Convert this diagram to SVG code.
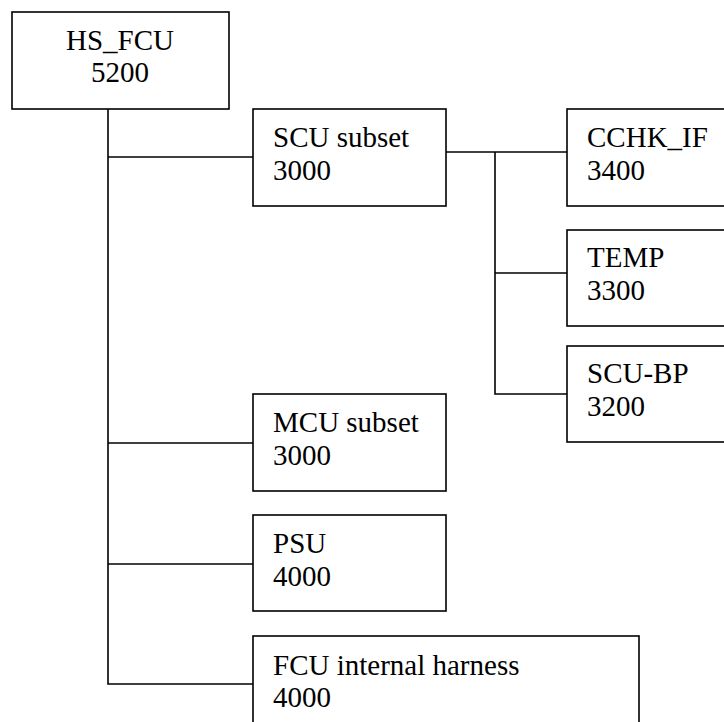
<svg xmlns="http://www.w3.org/2000/svg" width="724" height="722" viewBox="0 0 724 722">
<style>
.box{fill:#fff;stroke:#000;stroke-width:1.6}
.wire{fill:none;stroke:#000;stroke-width:1.6}
.t{font-family:'Liberation Serif','Times New Roman',Times,'Noto Serif','DejaVu Serif',serif;font-size:29px;fill:#000}
</style>
<rect width="724" height="722" fill="#fff"/>
<g id="connectors">
<polyline class="wire" points="108,109 108,684 253,684"/>
<line class="wire" x1="108" y1="157" x2="253" y2="157"/>
<line class="wire" x1="108" y1="443" x2="253" y2="443"/>
<line class="wire" x1="108" y1="564" x2="253" y2="564"/>
<line class="wire" x1="446" y1="152" x2="567" y2="152"/>
<polyline class="wire" points="495,152 495,394 567,394"/>
<line class="wire" x1="495" y1="273" x2="567" y2="273"/>
</g>
<g id="hs_fcu">
<rect class="box" x="12" y="12" width="217" height="97"/>
<text class="t" x="120" y="50" text-anchor="middle">HS_FCU</text>
<text class="t" x="120" y="82" text-anchor="middle">5200</text>
</g>
<g id="scu">
<rect class="box" x="253" y="109" width="193" height="97"/>
<text class="t" x="273" y="147">SCU subset</text>
<text class="t" x="273" y="180">3000</text>
</g>
<g id="cchk_if">
<rect class="box" x="567" y="109" width="170" height="97"/>
<text class="t" x="587" y="147">CCHK_IF</text>
<text class="t" x="587" y="180">3400</text>
</g>
<g id="temp">
<rect class="box" x="567" y="230" width="170" height="96"/>
<text class="t" x="587" y="267">TEMP</text>
<text class="t" x="587" y="300">3300</text>
</g>
<g id="scu_bp">
<rect class="box" x="567" y="346" width="170" height="96"/>
<text class="t" x="587" y="383">SCU-BP</text>
<text class="t" x="587" y="416">3200</text>
</g>
<g id="mcu">
<rect class="box" x="253" y="394" width="193" height="97"/>
<text class="t" x="273" y="432">MCU subset</text>
<text class="t" x="273" y="465">3000</text>
</g>
<g id="psu">
<rect class="box" x="253" y="515" width="193" height="96"/>
<text class="t" x="273" y="553">PSU</text>
<text class="t" x="273" y="586">4000</text>
</g>
<g id="fcu_harness">
<rect class="box" x="253" y="636" width="386" height="100"/>
<text class="t" x="273" y="675">FCU internal harness</text>
<text class="t" x="273" y="707">4000</text>
</g>
</svg>
